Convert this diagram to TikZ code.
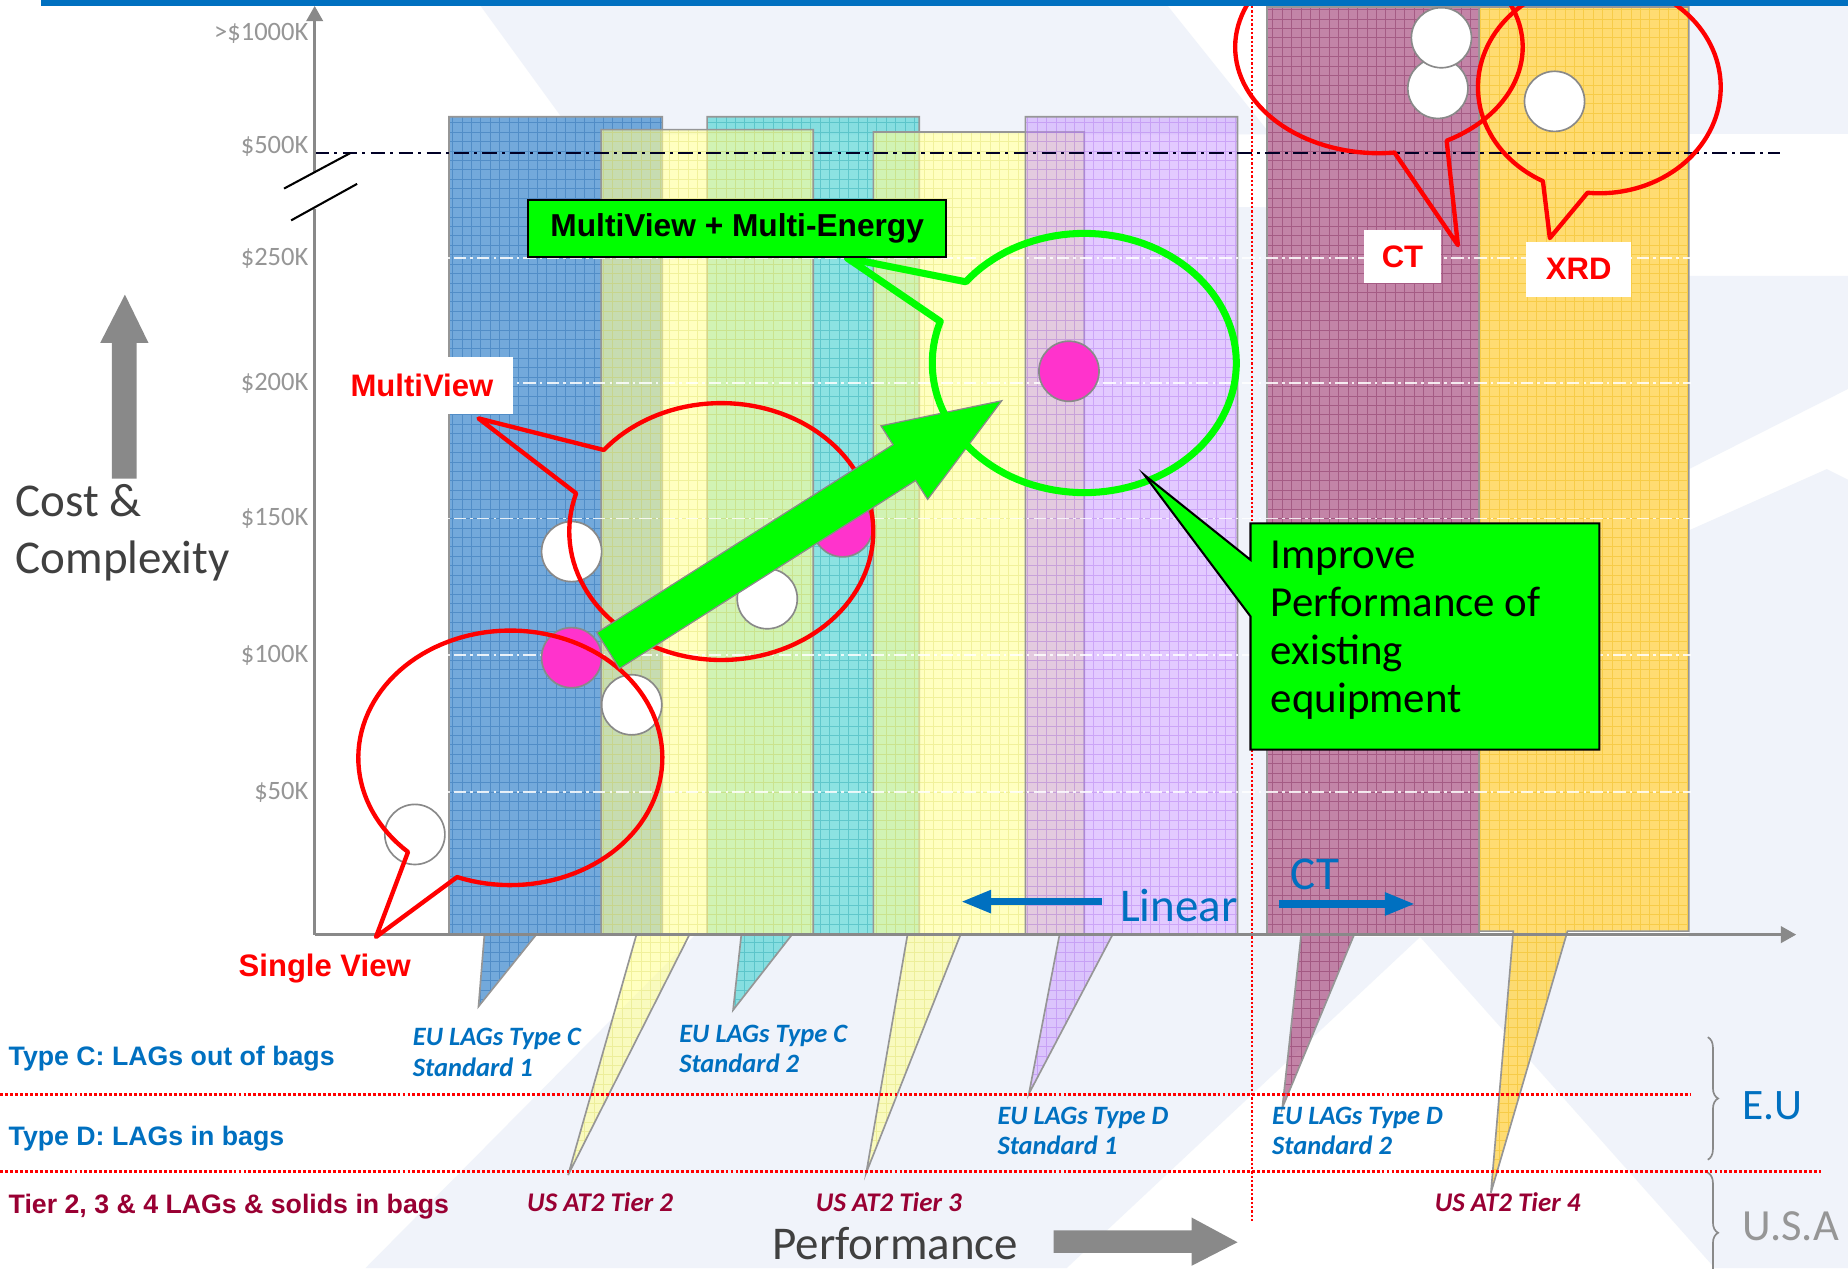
\documentclass[tikz,border=0pt]{standalone}
\usepackage{fontspec}
\setmainfont{Carlito}
\newfontfamily\arialfont{Liberation Sans}
\usetikzlibrary{arrows.meta,decorations.pathreplacing,positioning}

\definecolor{axisgray}{RGB}{137,137,137}
\definecolor{ticktext}{RGB}{150,150,150}
\definecolor{textdark}{RGB}{64,64,64}
\definecolor{eublue}{RGB}{0,112,192}
\definecolor{usmaroon}{RGB}{153,0,51}
\definecolor{callgreen}{RGB}{0,255,0}
\definecolor{dotpink}{RGB}{255,51,204}
\definecolor{bglight}{RGB}{240,243,250}
\definecolor{barline}{RGB}{150,150,150}
\definecolor{blueB}{RGB}{91,155,213}  \definecolor{blueG}{RGB}{31,100,170}
\definecolor{cyanB}{RGB}{64,208,208}  \definecolor{cyanG}{RGB}{30,160,170}
\definecolor{yelB}{RGB}{255,255,150}  \definecolor{yelG}{RGB}{220,220,100}
\definecolor{purB}{RGB}{200,150,255}  \definecolor{purG}{RGB}{170,110,235}
\definecolor{marB}{RGB}{176,92,138}   \definecolor{marG}{RGB}{120,30,80}
\definecolor{golB}{RGB}{255,215,90}   \definecolor{golG}{RGB}{235,180,10}

% one bar with its tail: fill, grid, outline
\newcommand{\colbar}[4]{%
  \begin{scope}
    \clip #4;
    \fill[#1, opacity=#2] #4;
    \draw[#3, line width=0.3pt, opacity=0.4, step=0.16cm] (0,1076) grid (1568,0);
  \end{scope}
  \draw[barline, line width=0.8pt] #4;
}

\begin{document}
\begin{tikzpicture}[x=0.02cm, y=-0.02cm]
  \tikzstyle{ticklab}=[anchor=east, inner sep=0pt, text=ticktext, font=\fontsize{12.8pt}{13pt}\selectfont]
  \tikzstyle{gridwhite}=[white, opacity=0.85, line width=0.8pt, dash pattern=on 6pt off 2pt on 1.2pt off 2pt]
  \tikzstyle{axisline}=[draw=axisgray, line width=1.3pt]
  \tikzstyle{dotwhite}=[circle, draw=axisgray, fill=white, line width=0.8pt, minimum size=1.02cm, inner sep=0pt]
  \tikzstyle{dotpink}=[dotwhite, fill=dotpink]
  \tikzstyle{callred}=[draw=red, line width=2.1pt, line join=round]
  \tikzstyle{redlab}=[text=red, fill=white, inner sep=0pt, font=\arialfont\bfseries\fontsize{15pt}{15pt}\selectfont]
  \tikzstyle{greenlab}=[draw=black, fill=callgreen, line width=1pt, inner sep=0pt, minimum width=7.1cm, minimum height=0.96cm, font=\arialfont\bfseries\fontsize{15.3pt}{15pt}\selectfont]
  \tikzstyle{eulab}=[anchor=west, align=left, inner sep=0pt, text=eublue, font=\bfseries\itshape\fontsize{12.8pt}{14.7pt}\selectfont]
  \tikzstyle{uslab}=[anchor=west, inner sep=0pt, text=usmaroon, font=\bfseries\itshape\fontsize{13pt}{14pt}\selectfont]
  \tikzstyle{sidelab}=[anchor=west, inner sep=0pt, font=\arialfont\bfseries\fontsize{12.9pt}{13pt}\selectfont]
  \tikzstyle{bigtext}=[anchor=west, inner sep=0pt, font=\fontsize{22.7pt}{27.8pt}\selectfont]
  \tikzstyle{redline}=[red, densely dotted, line width=1.4pt]
  \tikzstyle{bluearrow}=[draw=eublue, line width=3.7pt, -{Triangle[length=0.52cm, width=0.36cm]}]
  \tikzstyle{grayblock}=[fill=axisgray]

  \useasboundingbox (0,0) rectangle (1568,1076);
  \clip (0,0) rectangle (1568,1076);
  \fill[white] (0,0) rectangle (1568,1076);

  % background
  \fill[bglight] (407,4) -- (990,4) -- (1078,114) -- (487,114) -- cycle;
  \fill[bglight] (1433,4) -- (1568,4) -- (1568,114) -- (1433,114) -- cycle;
  \fill[bglight] (1433,234) -- (1568,234) -- (1568,330) -- (1433,398) -- cycle;
  \fill[bglight] (1433,450) -- (1550,398) -- (1568,407) -- (1568,1076) -- (1455,1076) -- (1205,795) -- (1433,795) -- cycle;
  \fill[bglight] (590,793) -- (1205,795) -- (905,1076) -- (310,1076) -- cycle;
  \fill[bglight] (1050,176) rectangle (1075,793);

  % bars
  \colbar{blueB}{0.85}{blueG}{(381,99) -- (562,99) -- (562,793) -- (455,793) -- (406,854) -- (411,793) -- (381,793) -- cycle}
  \colbar{cyanB}{0.6}{cyanG}{(600,99) -- (780,99) -- (780,793) -- (672,793) -- (622,857) -- (629,793) -- (600,793) -- cycle}
  \colbar{yelB}{0.6}{yelG}{(510,110) -- (690,110) -- (690,793) -- (585,793) -- (482,997) -- (540,793) -- (510,793) -- cycle}
  \colbar{yelB}{0.6}{yelG}{(741,112) -- (920,112) -- (920,793) -- (815,793) -- (735,995) -- (770,793) -- (741,793) -- cycle}
  \colbar{purB}{0.5}{purG}{(870,99) -- (1050,99) -- (1050,793) -- (944,793) -- (873,928) -- (899,793) -- (870,793) -- cycle}
  \colbar{marB}{0.75}{marG}{(1075,6) -- (1255,6) -- (1255,793) -- (1149,793) -- (1088,940) -- (1104,793) -- (1075,793) -- cycle}
  \colbar{golB}{0.85}{golG}{(1255,6) -- (1433,6) -- (1433,790) -- (1330,790) -- (1265,1012) -- (1284,790) -- (1255,790) -- cycle}

  % region separators
  \draw[redline] (0,929) -- (1435,929);
  \draw[redline] (0,994) -- (1545,994);
  \draw[redline, line width=1.1pt] (1062,5) -- (1062,1038);

  % value levels
  \foreach \yy in {219,325,440,556,672}
    \draw[gridwhite] (267,\yy) -- (1435,\yy);
  \draw[black!85!blue, line width=1.1pt, dash pattern=on 7pt off 2.5pt on 1.5pt off 2.5pt] (267,130) -- (1510,130);

  % axes
  \coordinate (origin) at (267,793);
  \coordinate (ytop) at (267,5);
  \coordinate (xend) at (1524,793);
  \coordinate (brkA) at (267,147);
  \coordinate (brkB) at (267,177);
  \draw[axisline] (origin) -- (brkB);
  \draw[axisline, -{Triangle[length=0.26cm, width=0.28cm]}] (brkA) -- (ytop);
  \draw[axisline, -{Triangle[length=0.26cm, width=0.28cm]}] (origin) -- (xend);
  \draw[black, line width=1pt] (241,160) -- (297,130);
  \draw[black, line width=1pt] (247,187) -- (303,156);

  \foreach \yy/\lab [count=\i] in {28/{>\$1000K},124/{\$500K},219/{\$250K},325/{\$200K},440/{\$150K},556/{\$100K},672/{\$50K}}
    \node[ticklab] (tick\i) at (262,\yy) {\lab};

  % systems
  \node[dotwhite] (sv1) at (352,708) {};
  \node[dotwhite] (mv1) at (485,468) {};
  \node[dotpink]  (me1) at (485,558) {};
  \node[dotwhite] (mv2) at (536,598) {};
  \node[dotwhite] (mv3) at (651,508) {};
  \node[dotpink]  (me2) at (715,447) {};
  \node[dotpink]  (me3) at (907,315) {};
  \node[dotwhite] (ct2) at (1220,75) {};
  \node[dotwhite] (ct1) at (1223,32) {};
  \node[dotwhite] (xr1) at (1319,86) {};

  % speech bubbles
  \draw[callred] (319,795) -- plot[domain=132.3:470.5, samples=120] ({433+129*cos(\x)},{643+108*sin(\x)}) -- cycle;
  \draw[callred] (406,355) -- plot[domain=219.4:557.3, samples=120] ({612+129*cos(\x)},{451+109*sin(\x)}) -- cycle;
  \draw[callred] (1237,208) -- plot[domain=83.8:421.9, samples=120] ({1170+122*cos(\x)},{40+90*sin(\x)}) -- cycle;
  \draw[callred] (1315,202) -- plot[domain=117.7:455.6, samples=120] ({1357+103*cos(\x)},{74+90*sin(\x)}) -- cycle;

  \draw[draw=axisgray, fill=callgreen, line width=0.6pt] (506.4,536.8) -- (757.7,377.3) -- (747.5,361.3) -- (850,340) -- (787.1,423.7) -- (776.9,407.7) -- (525.6,567.2) -- cycle;
  \draw[draw=callgreen, line width=3.4pt, line join=round] (719,219) -- plot[domain=218.8:558.7, samples=120] ({920+129*cos(\x)},{308+110*sin(\x)}) -- cycle;

  \draw[draw=black, fill=callgreen, line width=1pt] (1061,444) -- (1357,444) -- (1357,636) -- (1061,636) -- (1061,523) -- (971,403) -- (1061,475) -- cycle;
  \node[anchor=west, align=left, inner sep=0pt, font=\fontsize{20.7pt}{23.2pt}\selectfont] (improve) at (1078,534.5) {Improve\\Performance of\\existing\\equipment};

  \node[greenlab] (mvme) at (625.5,194) {MultiView + Multi-Energy};
  \node[redlab, minimum width=3.1cm, minimum height=0.96cm] (mv) at (358,327) {MultiView};
  \node[redlab, fill=none] (sv) at (275.5,822) {Single View};
  \node[redlab, minimum width=1.32cm, minimum height=0.9cm] (ct) at (1190,217.5) {CT};
  \node[redlab, minimum width=1.78cm, minimum height=0.94cm] (xrd) at (1339.5,228.5) {XRD};

  % linear / CT
  \coordinate (linS) at (935,765);
  \coordinate (linE) at (815,765);
  \coordinate (ctS) at (1085,767);
  \coordinate (ctE) at (1201,767);
  \draw[bluearrow] (linS) -- (linE);
  \draw[bluearrow] (ctS) -- (ctE);
  \node[bigtext, text=eublue] (linear) at (950,768) {Linear};
  \node[bigtext, text=eublue] (ctarrow) at (1095,742) {CT};

  % standards
  \node[eulab] (euc1) at (350,893) {EU LAGs Type C\\Standard 1};
  \node[eulab] (euc2) at (576,890) {EU LAGs Type C\\Standard 2};
  \node[eulab] (eud1) at (846,959.5) {EU LAGs Type D\\Standard 1};
  \node[eulab] (eud2) at (1079,959.5) {EU LAGs Type D\\Standard 2};
  \node[uslab] (us2) at (447,1020) {US AT2 Tier 2};
  \node[uslab] (us3) at (692,1020) {US AT2 Tier 3};
  \node[uslab] (us4) at (1217,1020) {US AT2 Tier 4};

  \node[sidelab, text=eublue] (typec) at (7,898) {Type C: LAGs out of bags};
  \node[sidelab, text=eublue] (typed) at (7,966) {Type D: LAGs in bags};
  \node[sidelab, text=usmaroon] (tiers) at (7,1024) {Tier 2, 3 \& 4 LAGs \& solids in bags};

  \draw[axisgray, line width=0.8pt, decorate, decoration={brace, amplitude=5pt}] (1449,880) -- (1449,984);
  \draw[axisgray, line width=0.8pt, decorate, decoration={brace, amplitude=5pt}] (1449,995) -- (1449,1097);
  \node[bigtext, text=eublue, font=\fontsize{21pt}{25pt}\selectfont] (eu) at (1478,938) {E.U};
  \node[bigtext, text=ticktext, font=\fontsize{21.5pt}{25pt}\selectfont] (usa) at (1478,1040) {U.S.A};

  % axis titles
  \node[bigtext, text=textdark] (perf) at (655,1055) {Performance};
  \fill[grayblock] (894,1044) -- (1011,1044) -- (1011,1033) -- (1050,1054) -- (1011,1074) -- (1011,1063) -- (894,1063) -- cycle;
  \node[bigtext, text=textdark, align=left] (cost) at (13,452) {Cost \&\\Complexity};
  \fill[grayblock] (95,406) -- (95,291) -- (85,291) -- (106,250) -- (126,291) -- (116,291) -- (116,406) -- cycle;

  \fill[eublue] (35,0) rectangle (1568,5);
\end{tikzpicture}
\end{document}
